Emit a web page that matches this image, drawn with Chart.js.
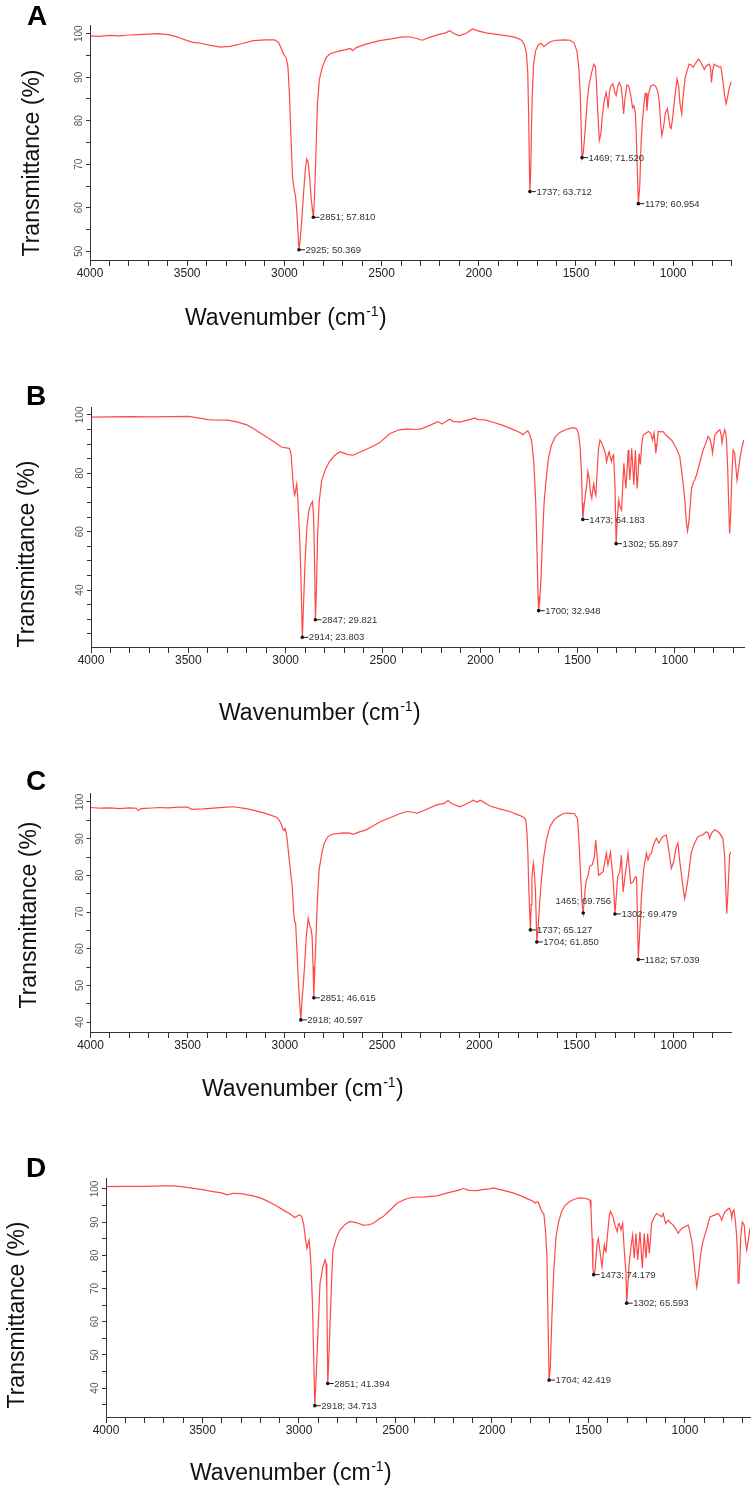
<!DOCTYPE html>
<html>
<head>
<meta charset="utf-8">
<script src="https://cdn.jsdelivr.net/npm/chart.js@4.4.1/dist/chart.umd.min.js"></script>
<style>
  html, body { margin: 0; padding: 0; background: #ffffff; }
  #wrap { position: relative; width: 755px; height: 1488px; overflow: hidden; background: #ffffff; }
  canvas { position: absolute; left: 0; }
</style>
</head>
<body>
<div id="wrap">
  <canvas id="cA"></canvas>
  <canvas id="cB"></canvas>
  <canvas id="cC"></canvas>
  <canvas id="cD"></canvas>
</div>
<script>
// ---------- tick labels ----------
const xLabelValues = [4000, 3500, 3000, 2500, 2000, 1500, 1000];
const yLabelsA = [50, 60, 70, 80, 90, 100];
const yLabelsB = [40, 60, 80, 100];
const yLabelsC = [40, 50, 60, 70, 80, 90, 100];
const yLabelsD = [40, 50, 60, 70, 80, 90, 100];
const X_MINOR_STEP = 100;
const Y_MINOR_STEP = 5;

// ---------- titles ----------
const panelNames = ['A', 'B', 'C', 'D'];
const yTitleText = 'Transmittance (%)';
const xTitleMain = 'Wavenumber (cm';
const xTitleSup = '-1';
const xTitleEnd = ')';

// ---------- spectra: [wavenumber, transmittance] ----------
const specA = [[4000,99.5],[3950,99.4],[3900,99.6],[3850,99.5],[3800,99.7],[3750,99.8],[3700,99.9],[3650,100.0],[3600,99.8],[3560,99.4],[3530,98.9],[3500,98.4],[3470,98.0],[3430,97.8],[3380,97.3],[3330,96.9],[3280,97.1],[3220,97.7],[3160,98.4],[3100,98.6],[3050,98.6],[3030,98.0],[3015,96.5],[3003,95.2],[2992,94.6],[2982,92.5],[2974,86],[2966,76],[2958,67],[2950,64.2],[2944,63],[2938,60.5],[2932,56],[2925,50.369],[2918,53],[2910,57.5],[2902,63],[2893,68.5],[2885,71.2],[2878,70.5],[2870,67],[2862,62],[2851,57.81],[2845,62.5],[2838,72],[2830,84],[2820,89.5],[2805,92.3],[2785,94.5],[2765,95.4],[2720,96.0],[2680,96.4],[2660,96.6],[2650,96.1],[2630,96.8],[2580,97.6],[2510,98.4],[2450,98.8],[2400,99.2],[2356,99.3],[2320,98.9],[2290,98.5],[2250,99.2],[2200,99.9],[2170,100.2],[2150,100.7],[2125,100.0],[2100,99.5],[2060,100.2],[2033,101.1],[2000,100.6],[1962,100.2],[1900,99.8],[1850,99.5],[1807,99.1],[1780,98.5],[1766,97.6],[1755,95.5],[1748,91],[1743,80],[1739,68],[1737,63.712],[1733,68],[1729,78],[1725,86],[1718,93],[1708,96],[1695,97.4],[1680,97.8],[1665,97.0],[1650,97.6],[1630,98.2],[1600,98.5],[1560,98.6],[1530,98.5],[1510,97.9],[1495,96],[1485,92],[1478,86],[1473,78],[1469,71.52],[1463,72.5],[1457,75.5],[1450,79.5],[1442,84.6],[1432,88.5],[1420,91],[1408,93],[1400,92.3],[1395,89],[1388,82],[1380,75.5],[1372,77],[1365,80.8],[1355,84.5],[1345,86.5],[1339,85],[1335,82.8],[1328,86.5],[1320,88],[1310,88.5],[1300,86.5],[1293,85.8],[1285,88],[1277,88.8],[1268,87.8],[1261,85],[1255,81.6],[1247,85.5],[1238,88.2],[1229,88],[1218,85.8],[1209,83],[1202,83.5],[1195,81.8],[1190,77],[1185,69],[1179,60.954],[1172,65],[1165,75],[1158,80],[1150,84],[1144,86.2],[1139,86.3],[1135,82.3],[1128,86],[1115,88],[1100,88.3],[1089,87.8],[1080,86.8],[1072,84.6],[1064,79],[1058,76.6],[1050,78.5],[1040,81.8],[1030,82.8],[1022,80.5],[1016,78.5],[1011,78.2],[1003,80.5],[992,85.3],[980,89.6],[972,88],[965,84],[956,81.6],[950,85],[944,87.6],[938,90],[928,91.5],[918,93],[908,92.8],[897,92.3],[885,93.2],[870,94.2],[860,93.6],[850,92.7],[840,91.8],[830,92.6],[815,93.0],[808,92.2],[803,88.8],[797,91.5],[789,93],[775,92.6],[762,92.3],[755,92.4],[745,89.5],[736,86],[728,83.9],[720,85.5],[712,87.5],[702,88.8],[700,89.0]];

const specB = [[4000,99.2],[3900,99.3],[3800,99.4],[3700,99.3],[3600,99.4],[3500,99.5],[3450,99.0],[3400,98.4],[3373,98.3],[3300,98.2],[3250,97.6],[3200,96.6],[3168,95.4],[3130,93.8],[3096,92.3],[3060,90.8],[3020,88.9],[2995,88.7],[2980,88.5],[2972,86.5],[2965,80],[2960,75],[2953,72.6],[2948,74.5],[2943,76.3],[2938,72],[2932,64],[2926,55],[2920,40],[2914,23.803],[2908,35],[2900,50],[2890,62],[2880,67.5],[2870,69.3],[2862,70.3],[2857,66],[2852,52],[2847,29.821],[2842,40],[2836,58],[2828,70],[2815,77.5],[2798,81],[2775,84],[2750,86],[2722,87.4],[2700,86.9],[2680,86.4],[2654,86.2],[2620,87.2],[2582,88.3],[2560,89],[2516,90.5],[2464,93.6],[2420,94.8],[2377,95.2],[2330,95.0],[2300,95.3],[2260,96.4],[2218,97.7],[2197,96.9],[2175,97.8],[2156,98.5],[2140,97.8],[2105,97.5],[2060,98.3],[2028,98.9],[2010,98.4],[1976,98.3],[1930,97.4],[1884,96.4],[1840,95.2],[1807,94.3],[1790,93.7],[1781,93.2],[1768,94.0],[1756,94.5],[1745,93.2],[1735,90.5],[1725,84],[1715,70],[1708,52],[1703,38],[1700,32.948],[1695,36],[1688,44],[1680,58],[1672,70],[1663,77],[1650,85],[1635,89.5],[1615,92.5],[1591,94],[1560,95.0],[1540,95.4],[1520,95.6],[1505,95.2],[1495,93.5],[1487,89],[1480,80],[1476,70],[1473,64.183],[1468,68],[1460,72.5],[1453,76],[1447,80.6],[1440,78],[1433,73],[1427,71.4],[1421,75],[1417,76.4],[1411,73.5],[1406,72.4],[1400,80],[1393,88],[1385,91.4],[1375,90.2],[1365,88.5],[1358,87],[1351,84],[1344,86],[1338,87.4],[1332,85.5],[1326,84],[1320,85.8],[1315,86.3],[1308,76],[1302,55.897],[1296,64],[1289,70.9],[1282,68.5],[1274,67.4],[1268,76],[1262,83.4],[1257,79],[1252,74.8],[1246,81],[1240,88],[1236,83],[1232,77.7],[1227,82],[1222,88.6],[1216,82],[1211,76],[1207,82],[1203,88],[1198,80],[1194,74.8],[1189,80],[1184,86.8],[1178,83],[1170,90],[1163,93.1],[1150,93.7],[1135,94.3],[1125,93.8],[1115,91.4],[1107,93.8],[1102,90],[1098,86.9],[1092,90],[1086,94.3],[1075,94.2],[1061,94.3],[1045,93],[1018,91.4],[1000,89.5],[988,87.8],[975,85.7],[962,79],[949,70.9],[941,63],[935,60.2],[928,63.5],[920,70],[915,74.6],[905,77],[898,77.7],[889,79.4],[875,83],[855,88],[840,90.5],[830,92.6],[820,91.8],[812,89.5],[807,86.9],[800,90.5],[795,93.1],[780,94.3],[769,94.9],[762,93],[758,90.4],[752,93],[744,94.9],[738,93.5],[735,91.4],[729,82],[724,70],[719,59.4],[714,65],[708,78],[701,88],[693,86.9],[688,83],[681,77.7],[674,81],[665,85.5],[655,89],[646,91.4]];

const specC = [[4000,98.5],[3950,98.3],[3900,98.4],[3850,98.2],[3800,98.4],[3765,98.3],[3755,97.7],[3740,98.2],[3700,98.3],[3650,98.5],[3600,98.4],[3550,98.6],[3500,98.6],[3490,98.3],[3480,98.0],[3420,98.1],[3350,98.4],[3300,98.6],[3265,98.7],[3200,98.2],[3163,97.8],[3100,96.9],[3040,95.8],[3020,94.2],[3010,92.6],[3004,92.2],[2999,92.8],[2993,91.5],[2988,89.6],[2975,83],[2962,76.9],[2955,70],[2950,67.4],[2945,67],[2938,60],[2932,52.4],[2925,46],[2918,40.597],[2912,46],[2906,49.6],[2898,56],[2890,63.3],[2880,68.3],[2873,66.5],[2866,65.5],[2860,63.3],[2855,55],[2851,46.615],[2846,55],[2840,63.3],[2832,74],[2824,81.5],[2810,86],[2798,88.7],[2780,90.5],[2757,91.2],[2700,91.6],[2665,91.5],[2650,91.2],[2620,91.8],[2582,92.4],[2545,93.5],[2510,94.6],[2459,95.7],[2410,96.8],[2372,97.4],[2340,97.2],[2320,96.9],[2280,97.8],[2218,99.2],[2180,99.6],[2161,100.4],[2140,99.5],[2100,98.7],[2070,99.4],[2040,100.2],[2033,100.5],[2010,100.0],[1995,100.5],[1981,100.1],[1960,99.4],[1945,98.9],[1900,98.2],[1843,97.4],[1801,96.5],[1776,96],[1765,95.5],[1761,95.1],[1755,92],[1750,86],[1745,76],[1737,65.127],[1733,72],[1729,79.6],[1722,83.3],[1717,81],[1711,76],[1704,61.85],[1697,66],[1689,72.8],[1680,79],[1668,85.1],[1655,89.5],[1637,93.2],[1615,95.2],[1596,96],[1570,96.8],[1550,97.0],[1530,96.9],[1510,96.8],[1495,95.5],[1490,92],[1484,86],[1478,79.5],[1471,72],[1465,69.756],[1460,73.5],[1457,75.5],[1450,78.5],[1440,80],[1432,82.4],[1418,82.9],[1408,85],[1401,89.6],[1395,86],[1386,80],[1375,80.5],[1363,81],[1353,84],[1346,86],[1338,82.9],[1332,84.5],[1325,86.4],[1319,83],[1314,80.6],[1307,75],[1302,69.479],[1296,73.5],[1288,79.6],[1277,81],[1269,85.5],[1260,75.5],[1254,78],[1248,80.6],[1241,83.5],[1235,86],[1228,82],[1221,77.8],[1209,78.2],[1197,79.6],[1191,79.5],[1187,70],[1182,57.039],[1176,63],[1170,69],[1166,74.2],[1154,81.8],[1140,86],[1132,84.2],[1124,85.5],[1115,86],[1103,88.5],[1089,90.1],[1076,88.8],[1062,90.1],[1055,90.6],[1038,91],[1029,88.3],[1020,85],[1012,81.9],[1000,83.7],[988,87.5],[978,88.8],[970,84.5],[961,80.6],[950,76],[944,73.7],[935,76],[927,78.7],[918,82.5],[910,86],[895,88.5],[875,90.6],[851,91],[832,91.9],[822,91.5],[815,90.1],[805,91.5],[789,92.4],[775,92],[764,91.5],[747,90.1],[738,85.5],[733,78],[727,69.6],[721,75],[716,81],[712,85.5],[705,86.4]];

const specD = [[4000,100.7],[3900,100.8],[3800,100.8],[3700,100.9],[3650,100.9],[3600,100.6],[3549,100.2],[3500,99.8],[3446,99.2],[3400,98.8],[3373,98.2],[3342,98.7],[3300,98.6],[3238,97.9],[3200,97.3],[3166,96.4],[3120,95.0],[3083,93.7],[3050,92.6],[3021,91.4],[3005,92.0],[2995,92.2],[2985,91.6],[2975,89],[2966,84.6],[2959,82.1],[2953,83.5],[2948,84.6],[2942,81],[2937,76],[2930,65],[2924,50],[2918,34.713],[2912,42],[2905,52],[2898,62],[2891,71.6],[2876,76.6],[2865,78.6],[2860,77.5],[2856,70],[2851,41.394],[2846,48],[2839,59.5],[2830,74],[2824,81.6],[2805,85.5],[2788,87.6],[2760,89.4],[2736,90.2],[2700,89.8],[2668,89.1],[2640,89.2],[2617,89.6],[2580,91.2],[2565,91.6],[2530,93.5],[2492,95.7],[2450,96.9],[2409,97.5],[2350,97.6],[2285,97.9],[2230,98.8],[2166,99.7],[2150,100.2],[2120,99.6],[2078,99.5],[2040,99.9],[2010,100.0],[1990,100.3],[1974,100.0],[1930,99.4],[1891,98.8],[1850,97.9],[1803,96.7],[1785,96.2],[1777,95.7],[1770,96.1],[1760,96.0],[1750,94.5],[1743,93.2],[1731,92.5],[1722,87],[1715,79.6],[1710,62],[1704,42.419],[1698,46],[1689,62],[1680,75],[1668,85.6],[1655,90],[1639,93.2],[1622,95],[1596,96.3],[1560,97.2],[1544,97.3],[1515,97.2],[1492,96.6],[1487,94],[1481,85],[1477,76],[1473,74.179],[1466,75.4],[1460,80],[1455,83.6],[1449,85.1],[1442,82],[1437,79.6],[1430,76.6],[1424,80],[1418,83.1],[1413,81.5],[1409,81.1],[1400,87],[1392,92],[1386,93.2],[1372,91.5],[1363,89.1],[1351,87.1],[1345,89.4],[1340,89.6],[1332,87.6],[1323,89.6],[1316,83],[1311,78.6],[1306,75],[1302,65.593],[1296,71],[1290,77],[1285,79.6],[1279,83],[1271,86.1],[1263,79.1],[1254,86.6],[1245,78.6],[1233,87.1],[1221,76.1],[1211,86.6],[1202,79.1],[1193,86.6],[1185,80.6],[1180,84],[1173,89.6],[1160,91.5],[1147,92.6],[1130,92],[1121,91.6],[1113,92.6],[1100,89.6],[1087,90.6],[1075,89.8],[1061,89.1],[1048,88],[1035,86.6],[1025,87.5],[1017,88.1],[1000,88.6],[983,89.1],[972,86.5],[960,82.6],[950,76],[939,70.5],[930,74],[919,80.1],[908,84],[897,86.1],[885,88.5],[870,91.6],[845,92.2],[827,92.6],[815,91.5],[810,90.6],[800,92.2],[793,93.1],[780,93.8],[770,94.2],[762,93.2],[758,91.2],[752,93.2],[746,93.7],[738,90],[732,85.6],[728,80],[724,71.6],[720,72.5],[715,79],[711,85.6],[703,90.1],[693,89.1],[686,84],[680,81.6],[672,84.5],[663,88.2]];

// ---------- labelled peaks ----------
const peakWnA = [2925, 2851, 1737, 1469, 1179];
const peakTA  = [50.369, 57.810, 63.712, 71.520, 60.954];
const peakWnB = [2914, 2847, 1700, 1473, 1302];
const peakTB  = [23.803, 29.821, 32.948, 64.183, 55.897];
const peakWnC = [2918, 2851, 1737, 1704, 1465, 1302, 1182];
const peakTC  = [40.597, 46.615, 65.127, 61.850, 69.756, 69.479, 57.039];
const peakWnD = [2918, 2851, 1704, 1473, 1302];
const peakTD  = [34.713, 41.394, 42.419, 74.179, 65.593];

// ---------- styling / layout ----------
const FONT = '"Liberation Sans", Arial, Helvetica, sans-serif';
const LINE_COLOR = 'rgba(255, 40, 40, 0.85)';
const AXIS_COLOR = '#333333';
const X_AXIS_H = 30;

const panels = [
  { name: panelNames[0], canvasId: 'cA', top: 0, height: 345, spec: specA, xMin: 700, yMin: 48, yMax: 102,
    yLabels: yLabelsA, pkWn: peakWnA, pkT: peakTA, above: [],
    area: { l: 90, r: 731.5, t: 25, b: 260 }, letter: { x: 27, y: 25 }, yTitle: { x: 38.5, y: 163 }, xTitle: { x: 185, y: 324.5 } },
  { name: panelNames[1], canvasId: 'cB', top: 345, height: 385, spec: specB, xMin: 645, yMin: 20.5, yMax: 102.7,
    yLabels: yLabelsB, pkWn: peakWnB, pkT: peakTB, above: [],
    area: { l: 91, r: 744, t: 62, b: 302 }, letter: { x: 26, y: 60 }, yTitle: { x: 33.5, y: 209 }, xTitle: { x: 219, y: 375 } },
  { name: panelNames[2], canvasId: 'cC', top: 730, height: 375, spec: specC, xMin: 705, yMin: 37.3, yMax: 102.45,
    yLabels: yLabelsC, pkWn: peakWnC, pkT: peakTC, above: [1465],
    area: { l: 90.5, r: 731, t: 63, b: 302 }, letter: { x: 26, y: 60 }, yTitle: { x: 36, y: 185 }, xTitle: { x: 202, y: 366 } },
  { name: panelNames[3], canvasId: 'cD', top: 1105, height: 383, spec: specD, xMin: 663, yMin: 31.3, yMax: 103.3,
    yLabels: yLabelsD, pkWn: peakWnD, pkT: peakTD, above: [],
    area: { l: 106, r: 750, t: 73, b: 312 }, letter: { x: 26, y: 72 }, yTitle: { x: 23.5, y: 210 }, xTitle: { x: 190, y: 375 } }
];

// tick positions on the library's own scale (minor marks every step; labels only at listed values)
function stepTicks(min, max, step) {
  const out = [];
  for (let v = Math.ceil(min / step) * step; v <= max + 1e-9; v += step) out.push({ value: v });
  return out;
}

function decorPlugin(p) {
  return {
    id: 'decor' + p.name,
    afterDatasetsDraw(chart) {
      const ctx = chart.ctx;
      const xs = chart.scales.x, ys = chart.scales.y;
      ctx.save();
      p.pkWn.forEach((w, i) => {
        const t = p.pkT[i];
        const px = xs.getPixelForValue(w);
        const py = ys.getPixelForValue(t);
        const txt = w + '; ' + t.toFixed(3);
        ctx.fillStyle = '#111111';
        ctx.beginPath();
        ctx.arc(px, py, 1.8, 0, Math.PI * 2);
        ctx.fill();
        ctx.font = '9.5px ' + FONT;
        ctx.fillStyle = '#333333';
        ctx.textBaseline = 'middle';
        if (p.above.includes(w)) {
          ctx.textAlign = 'center';
          ctx.fillText(txt, px, py - 12);
        } else {
          ctx.strokeStyle = '#222222';
          ctx.lineWidth = 1;
          ctx.beginPath();
          ctx.moveTo(px, py);
          ctx.lineTo(px + 6, py);
          ctx.stroke();
          ctx.textAlign = 'left';
          ctx.fillText(txt, px + 6.5, py + 0.5);
        }
      });
      ctx.restore();
    },
    afterDraw(chart) {
      const ctx = chart.ctx;
      ctx.save();
      ctx.fillStyle = '#000000';
      ctx.textBaseline = 'alphabetic';
      ctx.font = 'bold 28px ' + FONT;
      ctx.textAlign = 'left';
      ctx.fillText(p.name, p.letter.x, p.letter.y);
      ctx.save();
      ctx.font = '23px ' + FONT;
      ctx.fillStyle = '#111111';
      ctx.translate(p.yTitle.x, p.yTitle.y);
      ctx.rotate(-Math.PI / 2);
      ctx.textAlign = 'center';
      ctx.fillText(yTitleText, 0, 0);
      ctx.restore();
      ctx.fillStyle = '#111111';
      ctx.textAlign = 'left';
      let x = p.xTitle.x;
      const y = p.xTitle.y;
      ctx.font = '23px ' + FONT;
      ctx.fillText(xTitleMain, x, y);
      x += ctx.measureText(xTitleMain).width + 0.5;
      ctx.font = '14px ' + FONT;
      ctx.fillText(xTitleSup, x, y - 9);
      x += ctx.measureText(xTitleSup).width + 0.5;
      ctx.font = '23px ' + FONT;
      ctx.fillText(xTitleEnd, x, y);
      ctx.restore();
    }
  };
}

function makeChart(p) {
  const canvas = document.getElementById(p.canvasId);
  canvas.width = 755;
  canvas.height = p.height;
  canvas.style.width = '755px';
  canvas.style.height = p.height + 'px';
  canvas.style.top = p.top + 'px';
  const a = p.area;
  return new Chart(canvas, {
    type: 'line',
    data: {
      datasets: [{
        data: p.spec.map(([wn, t]) => ({ x: wn, y: t })),
        borderColor: LINE_COLOR,
        borderWidth: 1.2,
        pointRadius: 0,
        tension: 0,
        fill: false
      }]
    },
    options: {
      responsive: false,
      animation: false,
      events: [],
      layout: { padding: { left: 0, top: a.t, right: 755 - a.r, bottom: p.height - a.b - X_AXIS_H } },
      plugins: { legend: { display: false }, tooltip: { enabled: false }, title: { display: false } },
      scales: {
        x: {
          type: 'linear', reverse: true, min: p.xMin, max: 4000, offset: false,
          border: { display: true, color: AXIS_COLOR, width: 1 },
          grid: { display: true, drawOnChartArea: false, drawTicks: true, tickLength: 6, color: AXIS_COLOR, lineWidth: 1 },
          ticks: {
            autoSkip: false, maxRotation: 0, minRotation: 0,
            padding: 0, color: '#222222', font: { family: FONT, size: 12 },
            callback: (v) => xLabelValues.includes(v) ? String(v) : ''
          },
          afterBuildTicks: (s) => { s.ticks = stepTicks(p.xMin, 4000, X_MINOR_STEP); },
          afterFit: (s) => { s.height = X_AXIS_H; s.paddingLeft = 0; s.paddingRight = 0; s.paddingTop = 0; s.paddingBottom = 0; }
        },
        y: {
          type: 'linear', min: p.yMin, max: p.yMax, offset: false,
          border: { display: true, color: AXIS_COLOR, width: 1 },
          grid: { display: true, drawOnChartArea: false, drawTicks: true, tickLength: 4, color: AXIS_COLOR, lineWidth: 1 },
          ticks: {
            autoSkip: false, minRotation: 90, maxRotation: 90,
            crossAlign: 'center', padding: -2, color: '#555555', font: { family: FONT, size: 10 },
            callback: (v) => p.yLabels.includes(v) ? String(v) : ''
          },
          afterBuildTicks: (s) => { s.ticks = stepTicks(p.yMin, p.yMax, Y_MINOR_STEP); },
          afterFit: (s) => { s.width = a.l; s.paddingLeft = 0; s.paddingRight = 0; s.paddingTop = 0; s.paddingBottom = 0; }
        }
      }
    },
    plugins: [decorPlugin(p)]
  });
}

panels.forEach(makeChart);
</script>
</body>
</html>
